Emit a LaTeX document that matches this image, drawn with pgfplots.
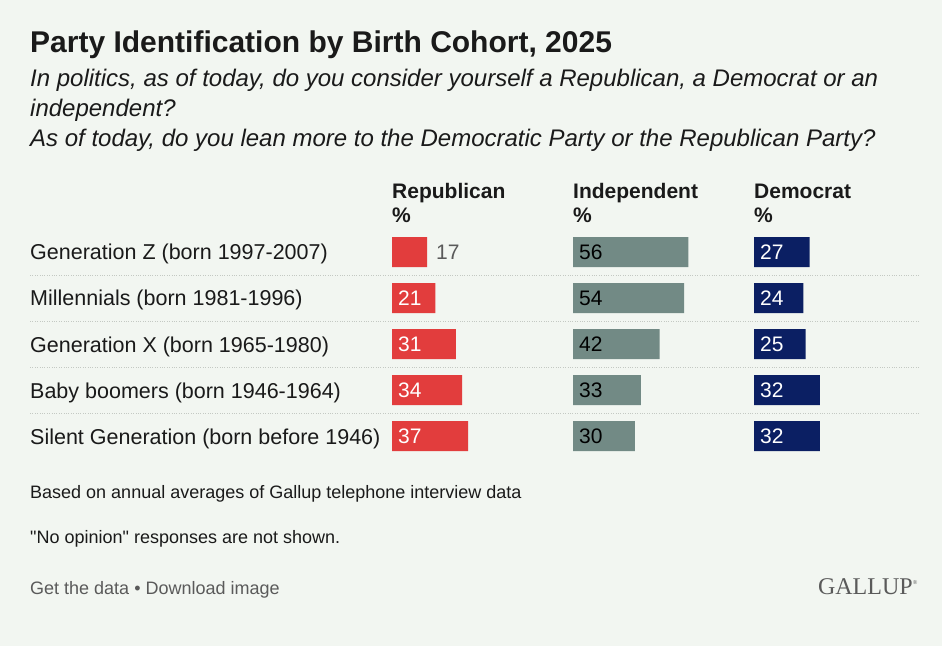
\documentclass[border=0pt]{standalone}
\usepackage{fontspec}
\setmainfont{Liberation Sans}
\newfontfamily\gallupserif{Liberation Serif}
\usepackage{pgfplots}
\usepackage{pgfplotstable}
\pgfplotsset{compat=1.18}

\definecolor{bg}{HTML}{F2F6F1}
\definecolor{repred}{HTML}{E23D3D}
\definecolor{indgray}{HTML}{728A85}
\definecolor{demblue}{HTML}{0B1F63}
\definecolor{ink}{HTML}{1A1A1A}
\definecolor{muted}{HTML}{5A5A5A}
\definecolor{rule}{HTML}{C4C9C3}

% row 0 = Generation Z ... row 4 = Silent Generation
\pgfplotstableread{
row rep ind dem
0   17  56  27
1   21  54  24
2   31  42  25
3   34  33  32
4   37  30  32
}\cohort

\newcommand{\sz}[1]{\fontsize{#1}{#1}\selectfont}

\pgfplotsset{
  partycol/.style={
    xbar, bar shift=0pt, bar width=30pt,
    hide axis, clip=false,
    x=2.06pt, y=46pt, y dir=reverse,
    xmin=0, xmax=60, ymin=-0.5, ymax=4.5,
    anchor=north west,
  },
  barlabel/.style={
    draw=none, fill=none,
    point meta=explicit,
    nodes near coords={\pgfmathprintnumber[assume math mode=true]{\pgfplotspointmeta}},
    every node near coord/.append style={anchor=west, inner sep=0pt,
      xshift=6pt, font=\sz{21}, text=#1},
  },
}

\begin{document}
\begin{tikzpicture}[x=1pt,y=1pt]
\fill[bg] (0,0) rectangle (942,646);

% titles
\node[anchor=base west, inner sep=0pt, text=ink, font=\sz{30}\bfseries]
  at (30,593) {Party Identification by Birth Cohort, 2025};
\node[anchor=base west, inner sep=0pt, text=ink, font=\sz{24}\itshape]
  at (30,559) {In politics, as of today, do you consider yourself a Republican, a Democrat or an};
\node[anchor=base west, inner sep=0pt, text=ink, font=\sz{24}\itshape]
  at (30,529) {independent?};
\node[anchor=base west, inner sep=0pt, text=ink, font=\sz{24}\itshape]
  at (30,499) {As of today, do you lean more to the Democratic Party or the Republican Party?};

% column heads
\foreach \cx/\hd in {392/Republican, 573/Independent, 754/Democrat}{
  \node[anchor=base west, inner sep=0pt, text=ink, font=\sz{21}\bfseries] at (\cx,447) {\hd};
  \node[anchor=base west, inner sep=0pt, text=ink, font=\sz{21}\bfseries] at (\cx,423) {\%};
}

% row labels
\foreach \yy/\lab in {386/Generation Z (born 1997-2007),
                      340/Millennials (born 1981-1996),
                      294/Generation X (born 1965-1980),
                      248/Baby boomers (born 1946-1964),
                      202/Silent Generation (born before 1946)}{
  \node[anchor=base west, inner sep=0pt, text=ink, font=\sz{21.5}] at (30,\yy) {\lab};
}

% dotted separators
\foreach \yy in {371,325,279,233}{
  \draw[rule, line width=0.8pt, dash pattern=on 1pt off 1.4pt] (30,\yy) -- (920,\yy);
}

% Republican
\begin{axis}[partycol, at={(392pt,417pt)}]
  \addplot[fill=repred, draw=none] table[x=rep, y=row] {\cohort};
  \addplot[barlabel=white, skip coords between index={0}{1}]
    table[x expr=0, y=row, meta=rep] {\cohort};
  \addplot[barlabel=muted, skip coords between index={1}{5},
    every node near coord/.append style={xshift=3pt}]
    table[x=rep, y=row, meta=rep] {\cohort};
\end{axis}

% Independent
\begin{axis}[partycol, at={(573pt,417pt)}]
  \addplot[fill=indgray, draw=none] table[x=ind, y=row] {\cohort};
  \addplot[barlabel=black] table[x expr=0, y=row, meta=ind] {\cohort};
\end{axis}

% Democrat
\begin{axis}[partycol, at={(754pt,417pt)}]
  \addplot[fill=demblue, draw=none] table[x=dem, y=row] {\cohort};
  \addplot[barlabel=white] table[x expr=0, y=row, meta=dem] {\cohort};
\end{axis}

% notes
\node[anchor=base west, inner sep=0pt, text=ink, font=\sz{18}] at (30,148)
  {Based on annual averages of Gallup telephone interview data};
\node[anchor=base west, inner sep=0pt, text=ink, font=\sz{18}] at (30,103)
  {\textquotedbl No opinion\textquotedbl{} responses are not shown.};
\node[anchor=base west, inner sep=0pt, text=muted, font=\sz{18}] at (30,52)
  {Get the data \textbullet{} Download image};
\node[anchor=base east, inner sep=0pt, text=muted, font=\gallupserif\sz{24}] at (918,52)
  {GALLUP\textsuperscript{\sz{6}\textregistered}};
\end{tikzpicture}
\end{document}
